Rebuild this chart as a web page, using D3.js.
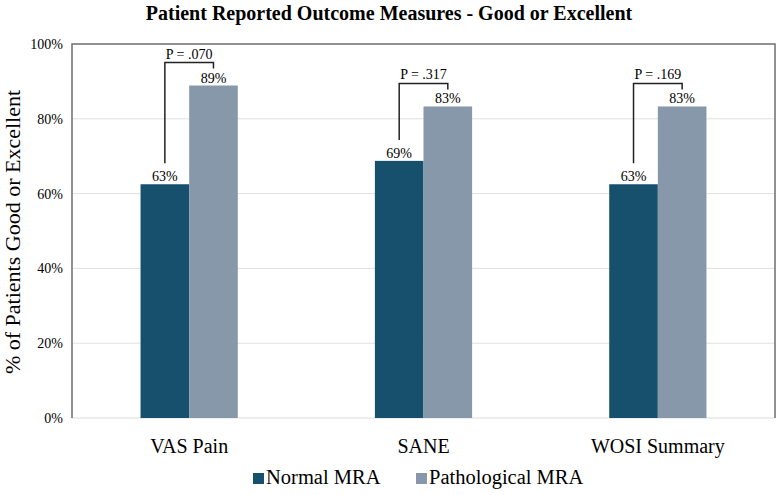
<!DOCTYPE html>
<html>
<head>
<meta charset="utf-8">
<script src="https://cdn.jsdelivr.net/npm/d3@7"></script>
<style>
  body { margin: 0; background: #fff; }
  #chart { width: 779px; height: 495px; }
</style>
</head>
<body>
<div id="chart"></div>
<script>
//Datos
const categories = ['VAS Pain', 'SANE', 'WOSI Summary'];
const series = ['Normal MRA', 'Pathological MRA'];
const normalValues = [62.5, 68.75, 62.5];
const pathologicalValues = [88.9, 83.3, 83.3];
const valueLabels = [['63%', '89%'], ['69%', '83%'], ['63%', '83%']];
const pValues = ['P = .070', 'P = .317', 'P = .169'];
const yTicks = [0, 20, 40, 60, 80, 100];

//Colores fijos
const COLOR_NORMAL = '#16506c',
COLOR_PATHO = '#8698a9',
FONT = '"Liberation Serif", "Times New Roman", serif';

let margin = {top: 44, right: 4, bottom: 77, left: 72},
    width = 779 - margin.left - margin.right,
    height = 495 - margin.top - margin.bottom;

let svg = d3.select('#chart')
    .append('svg')
        .attr('width', 779)
        .attr('height', 495);

let g = svg.append('g')
    .attr('transform', 'translate(' + margin.left + ',' + margin.top + ')');

// Title
svg.append('text')
    .attr('x', 389)
    .attr('y', 20)
    .attr('text-anchor', 'middle')
    .style('font-family', FONT)
    .style('font-size', '20px')
    .style('font-weight', 'bold')
    .text('Patient Reported Outcome Measures - Good or Excellent');

// Scales
let x = d3.scaleBand()
    .domain(categories)
    .range([0, width]);

let xSub = d3.scaleBand()
    .domain(series)
    .range([0, x.bandwidth()])
    .paddingOuter(1.41);

let y = d3.scaleLinear()
    .domain([0, 100])
    .range([height, 0]);

let color = d3.scaleOrdinal()
    .domain(series)
    .range([COLOR_NORMAL, COLOR_PATHO]);

// Gridlines
g.append('g')
    .selectAll('line')
    .data(yTicks.filter(d => d > 0 && d < 100))
    .enter()
    .append('line')
    .attr('x1', 0)
    .attr('x2', width)
    .attr('y1', d => y(d))
    .attr('y2', d => y(d))
    .attr('stroke', '#e0e0e0')
    .attr('stroke-width', 1);

// Y axis
let yAxis = function(g) {
    g.call(d3.axisLeft(y).tickValues(yTicks).tickSize(0).tickPadding(9).tickFormat(d => d + '%'));
    g.call(function(g){g.select('.domain').remove()});
    g.selectAll('.tick text')
        .style('font-family', FONT)
        .style('font-size', '14px')
        .attr('fill', '#000');
}
g.append('g').call(yAxis);

// Frame
g.append('line').attr('x1', 0).attr('x2', width).attr('y1', height).attr('y2', height)
    .attr('stroke', '#dcdcdc');
g.append('path')
    .attr('d', 'M0,' + height + 'V0H' + width + 'V' + height)
    .attr('fill', 'none')
    .attr('stroke', '#6e6e6e')
    .attr('stroke-width', 1.5);

// Y axis title
svg.append('text')
    .attr('transform', 'translate(20,232) rotate(-90)')
    .attr('text-anchor', 'middle')
    .style('font-family', FONT)
    .style('font-size', '22px')
    .text('% of Patients Good or Excellent');

// X axis
let xAxis = function(g) {
    g.call(d3.axisBottom(x).tickSize(0).tickPadding(21));
    g.call(function(g){g.select('.domain').remove()});
    g.selectAll('.tick text')
        .style('font-family', FONT)
        .style('font-size', '20px')
        .attr('fill', '#000');
}
g.append('g')
    .attr('transform', 'translate(0,' + height + ')')
    .call(xAxis);

// Bars
let rows = categories.map(function(c, i) {
    return {cat: c, values: [normalValues[i], pathologicalValues[i]], labels: valueLabels[i], p: pValues[i]};
});

let groups = g.append('g')
    .selectAll('g')
    .data(rows)
    .enter()
    .append('g')
    .attr('transform', d => 'translate(' + x(d.cat) + ',0)');

groups.selectAll('rect')
    .data(d => series.map((key, j) => ({key: key, value: d.values[j]})))
    .enter()
    .append('rect')
    .attr('x', d => xSub(d.key))
    .attr('width', xSub.bandwidth())
    .attr('y', d => y(d.value))
    .attr('height', d => y(0) - y(d.value))
    .attr('fill', d => color(d.key));

groups.selectAll('text.val')
    .data(d => series.map((key, j) => ({key: key, value: d.values[j], label: d.labels[j]})))
    .enter()
    .append('text')
    .attr('class', 'val')
    .attr('x', d => xSub(d.key) + xSub.bandwidth() / 2)
    .attr('y', d => y(d.value) - 3)
    .attr('text-anchor', 'middle')
    .style('font-family', FONT)
    .style('font-size', '14px')
    .text(d => d.label);

// Brackets
groups.each(function(d) {
    let grp = d3.select(this);
    let x0 = xSub(series[0]) + xSub.bandwidth() / 2,
        x1 = xSub(series[1]) + xSub.bandwidth() / 2,
        top = y(d.values[1]) - 23;
    grp.append('path')
        .attr('d', 'M' + x0 + ',' + (y(d.values[0]) - 21) + 'V' + top + 'H' + x1 + 'V' + (top + 6))
        .attr('fill', 'none')
        .attr('stroke', '#222')
        .attr('stroke-width', 1.5);
    grp.append('text')
        .attr('x', (x0 + x1) / 2)
        .attr('y', top - 4)
        .attr('text-anchor', 'middle')
        .style('font-family', FONT)
        .style('font-size', '14px')
        .text(d.p);
});

// Legend
let legend = svg.append('g')
    .attr('transform', 'translate(253,473)');
let legX = [0, 163];
series.forEach(function(s, i) {
    legend.append('rect')
        .attr('x', legX[i])
        .attr('y', 0)
        .attr('width', 11)
        .attr('height', 11)
        .attr('fill', color(s));
    legend.append('text')
        .attr('x', legX[i] + 13)
        .attr('y', 11)
        .style('font-family', FONT)
        .style('font-size', '20.5px')
        .text(s);
});
</script>
</body>
</html>
